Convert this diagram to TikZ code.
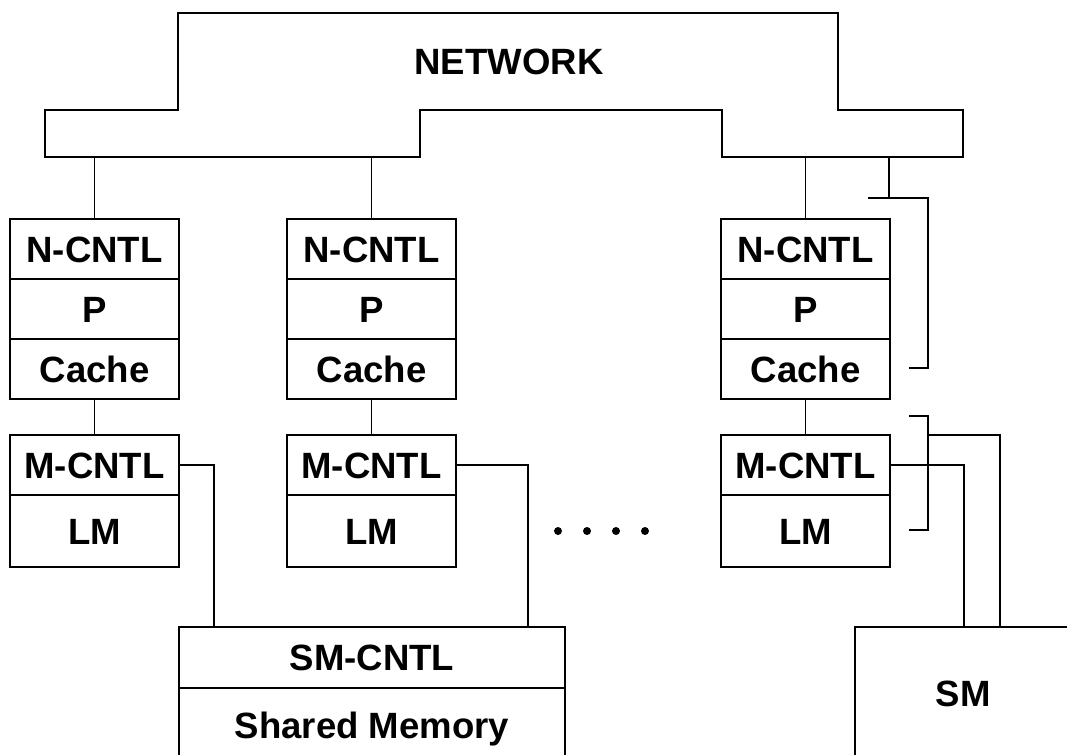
\documentclass[tikz,border=0pt]{standalone}
\usepackage{fontspec}
\setmainfont{Liberation Sans}
\usetikzlibrary{positioning}

\begin{document}
\begin{tikzpicture}[
  x=0.025cm, y=-0.025cm,
  node distance=0pt,
  line width=1.2pt,
  cell/.style={draw,rectangle,inner sep=0pt,outer sep=0pt,
    minimum width=4.225cm,minimum height=1.5cm,
    text height=18.6pt,text depth=0pt,
    font=\fontsize{26}{30}\selectfont\bfseries}
]
\useasboundingbox (0,0) rectangle (1067,755);
\clip (0,0) rectangle (1067,755);

% network
\draw (178,13) -- (838,13) -- (838,110) -- (963,110) -- (963,157)
  -- (722,157) -- (722,110) -- (420,110) -- (420,157) -- (45,157)
  -- (45,110) -- (178,110) -- cycle;
\node[font=\fontsize{26}{30}\selectfont\bfseries] (net) at (509,62) {NETWORK};
\coordinate (netbot) at (0,157);

% processor elements
\node[cell,anchor=north west] (ncntl1) at (10,219) {N-CNTL};
\node[cell,below=of ncntl1] (p1) {P};
\node[cell,below=of p1] (cache1) {Cache};
\node[cell,below=0.9cm of cache1] (mcntl1) {M-CNTL};
\node[cell,below=of mcntl1,minimum height=1.8cm] (lm1) {LM};

\node[cell,anchor=north west] (ncntl2) at (287,219) {N-CNTL};
\node[cell,below=of ncntl2] (p2) {P};
\node[cell,below=of p2] (cache2) {Cache};
\node[cell,below=0.9cm of cache2] (mcntl2) {M-CNTL};
\node[cell,below=of mcntl2,minimum height=1.8cm] (lm2) {LM};

\node[cell,anchor=north west] (ncntl3) at (721,219) {N-CNTL};
\node[cell,below=of ncntl3] (p3) {P};
\node[cell,below=of p3] (cache3) {Cache};
\node[cell,below=0.9cm of cache3] (mcntl3) {M-CNTL};
\node[cell,below=of mcntl3,minimum height=1.8cm] (lm3) {LM};

% shared memories
\node[cell,anchor=north west,minimum width=9.65cm,minimum height=1.525cm]
  (smcntl) at (179,627) {SM-CNTL};
\node[cell,below=of smcntl,minimum width=9.65cm,minimum height=1.85cm]
  (shmem) {Shared Memory};
\node[cell,anchor=north west,minimum width=5.4cm,minimum height=3.3cm]
  (sm) at (855,627) {SM};

\fill (558,531) circle (4) (587,531) circle (4)
  (616,531) circle (4) (645,531) circle (4);

% connections
\draw (ncntl1.north) -- (ncntl1.north |- netbot);
\draw (ncntl2.north) -- (ncntl2.north |- netbot);
\draw (ncntl3.north) -- (ncntl3.north |- netbot);
\draw (cache1) -- (mcntl1);
\draw (cache2) -- (mcntl2);
\draw (cache3) -- (mcntl3);

\coordinate (shin1) at (214,627);
\coordinate (shin2) at (528,627);
\draw (mcntl1.east) -| (shin1);
\draw (mcntl2.east) -| (shin2);

% brackets on the right
\coordinate (brtop) at (889,198);
\coordinate (brmid) at (928,435);
\coordinate (smin1) at (964,627);
\coordinate (smin2) at (1000,627);
\draw (brtop) -- (brtop |- netbot);
\draw (868,198) -- (928,198) -- (928,368) -- (909,368);
\draw (909,416) -- (928,416) -- (928,530) -- (909,530);
\draw (mcntl3.east) -| (smin1);
\draw (brmid) -| (smin2);
\end{tikzpicture}
\end{document}
